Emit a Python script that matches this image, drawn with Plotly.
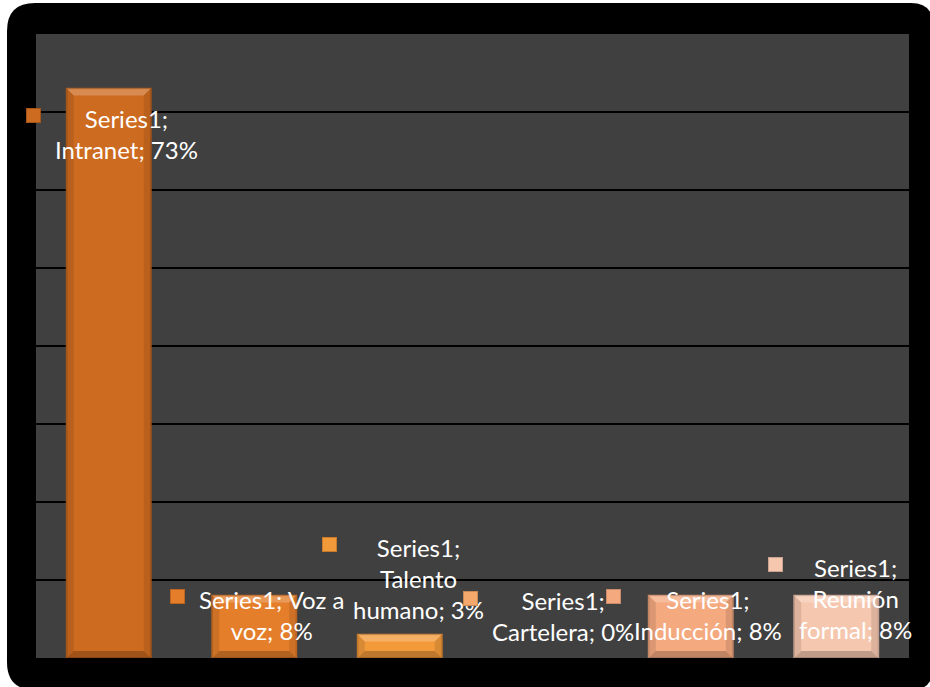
import textwrap
import plotly.graph_objects as go

# Chart data
series_name = "Series1"
categories = ["Intranet", "Voz a voz", "Talento humano", "Cartelera", "Inducción", "Reunión formal"]
values = [73, 8, 3, 0, 8, 8]  # percent

# Styling
bar_colors = ["#CD6B20", "#E47E2A", "#F29A3A", "#F5A86C", "#F4A97F", "#F6C7AF"]
edge_colors = ["#A65519", "#BC6520", "#C97B2C", "#C98A58", "#C98B69", "#C9A290"]

W, H = 930, 687
L, R, T, B = 36, 909, 34, 658  # plot area in pixels
Y_MAX = 80

# label placement (pixel offsets from bar top centre, y up)
label_dx = [18, 17, 19, 18, 17, 19]
label_dy = [-45, -19, 56, 42, -19, -3]
key_dx = [-75, -77, -70, -75, -77, -61]
key_dy = [-27, -1, 90, 60, -1, 31]
KEY = 15
BAR_HALF = 42   # half bar width in pixels
BEVEL = 7

fig = go.Figure()
fig.add_trace(go.Bar(
    x=list(range(len(categories))),
    y=values,
    marker=dict(color=bar_colors,
                line=dict(color=edge_colors,
                          width=[1.5 if v > 0 else 0 for v in values])),
    hovertext=categories,
    showlegend=False,
))


def bar_shape(i, anchor, path, fill):
    return dict(
        type="path", xref="x", yref="y", xsizemode="pixel", ysizemode="pixel",
        xanchor=i, yanchor=anchor, path=path,
        fillcolor=fill, line=dict(width=0), layer="above",
    )


annotations = []
shapes = []
for i, (cat, val) in enumerate(zip(categories, values)):
    text = f"{series_name}; {cat}; {val}%"
    lines = textwrap.wrap(text, width=14)
    annotations.append(dict(
        x=i, y=val, xref="x", yref="y",
        text="<br>".join(lines), showarrow=False,
        xanchor="center", yanchor="middle",
        xshift=label_dx[i], yshift=label_dy[i],
        font=dict(family="Lato", size=24, color="white"),
    ))
    # legend key square next to the label
    annotations.append(dict(
        x=i, y=val, xref="x", yref="y",
        text=" ", showarrow=False,
        xanchor="center", yanchor="middle",
        xshift=key_dx[i], yshift=key_dy[i],
        width=KEY - 2, height=KEY - 2,
        bgcolor=bar_colors[i], bordercolor=edge_colors[i],
        borderwidth=1, borderpad=0,
        font=dict(size=8),
    ))
    if val <= 0:
        continue
    # bevel: light band along the top edge, darker bands on the bottom and sides
    hw, bv = BAR_HALF, BEVEL
    height_px = val * (B - T) / Y_MAX
    shapes.append(bar_shape(
        i, val, f"M {-hw},0 L {hw},0 L {hw - bv},{-bv} L {-hw + bv},{-bv} Z",
        "rgba(255,255,255,0.22)"))
    shapes.append(bar_shape(
        i, 0, f"M {-hw},0 L {hw},0 L {hw - bv},{bv} L {-hw + bv},{bv} Z",
        "rgba(0,0,0,0.22)"))
    for s in (-1, 1):
        shapes.append(bar_shape(
            i, 0,
            f"M {s * hw},0 L {s * (hw - bv)},{bv} "
            f"L {s * (hw - bv)},{height_px - bv} L {s * hw},{height_px} Z",
            "rgba(0,0,0,0.10)"))


def px(x):
    return (x - L) / (R - L)


def py(y):
    return (B - y) / (B - T)


def white_path(pts, q):
    (x0, y0), (x1, y1), (cx, cy), (x2, y2) = pts[0], pts[1], q, pts[2]
    return (f"M {px(x0)},{py(y0)} L {px(x1)},{py(y1)} "
            f"Q {px(cx)},{py(cy)} {px(x2)},{py(y2)} Z")


# white page margins around the rounded black frame
frame_l, frame_t, frame_r, frame_b = 7, 3, 933, 690
rl, rr = 28, 22
corner_paths = [
    white_path([(frame_l, frame_t), (frame_l + rl, frame_t), (frame_l, frame_t + rl)], (frame_l, frame_t)),
    white_path([(frame_r, frame_t), (frame_r - rr, frame_t), (frame_r, frame_t + rr)], (frame_r, frame_t)),
    white_path([(frame_l, frame_b), (frame_l + rl, frame_b), (frame_l, frame_b - rl)], (frame_l, frame_b)),
    white_path([(frame_r, frame_b), (frame_r - rr, frame_b), (frame_r, frame_b - rr)], (frame_r, frame_b)),
]
for p in corner_paths:
    shapes.append(dict(type="path", xref="paper", yref="paper", path=p,
                       fillcolor="white", line=dict(width=0), layer="above"))
shapes.append(dict(type="rect", xref="paper", yref="paper",
                   x0=px(-2), x1=px(frame_l), y0=py(-2), y1=py(H + 2),
                   fillcolor="white", line=dict(width=0), layer="above"))
shapes.append(dict(type="rect", xref="paper", yref="paper",
                   x0=px(-2), x1=px(W + 2), y0=py(-2), y1=py(frame_t),
                   fillcolor="white", line=dict(width=0), layer="above"))

fig.update_layout(
    width=W, height=H,
    margin=dict(l=L, r=W - R, t=T, b=H - B, pad=0),
    paper_bgcolor="black",
    plot_bgcolor="#404040",
    bargap=0.42,
    xaxis=dict(
        range=[-0.5, len(categories) - 0.5],
        showticklabels=False, showgrid=False, zeroline=False,
        ticks="", showline=False,
    ),
    yaxis=dict(
        range=[0, Y_MAX], dtick=10,
        showticklabels=False, showgrid=True,
        gridcolor="black", gridwidth=2,
        zeroline=False, ticks="", showline=False,
    ),
    annotations=annotations,
    shapes=shapes,
    showlegend=False,
)

fig.write_html("out.html")
